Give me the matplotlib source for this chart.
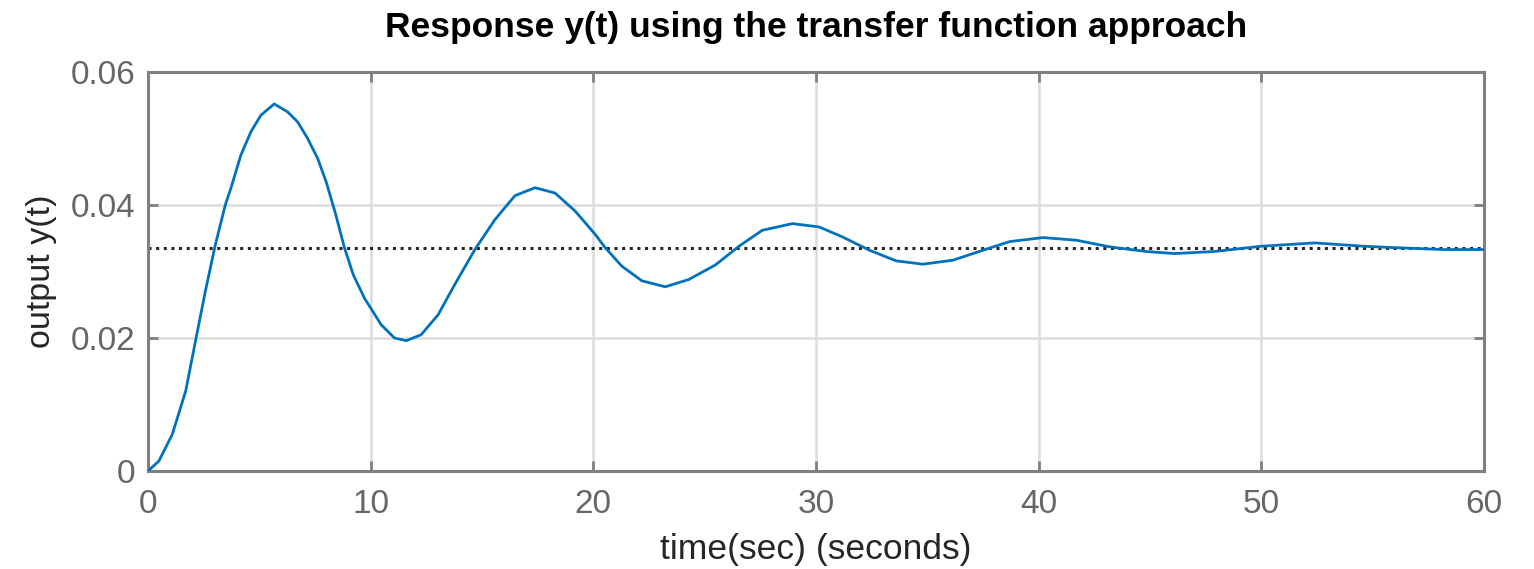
import matplotlib
matplotlib.use('Agg')
import matplotlib.pyplot as plt

# points
t = [0, 0.49, 1.09, 1.69, 2.13, 2.58, 3.03, 3.48, 3.72, 4.17, 4.62, 5.07, 5.67, 6.27,
     6.72, 7.17, 7.62, 8.0, 8.42, 8.82, 9.22, 9.72, 10.47, 11.07, 11.6, 12.27, 13.03, 13.77,
     14.68, 15.58, 16.48, 17.38, 18.28, 19.18, 20.08, 20.53, 21.28, 22.18, 23.23, 24.29,
     25.49, 26.54, 27.59, 28.94, 30.14, 31.19, 32.4, 33.6, 34.8, 36.15, 37.5, 38.7, 40.2,
     41.7, 43.2, 44.85, 46.1, 47.86, 50.0, 52.4, 54.6, 55.9, 58.2, 60.0]
y = [0, 0.0015, 0.0055, 0.0120, 0.0195, 0.0271, 0.0341, 0.0401, 0.0425, 0.0475, 0.0510,
     0.0535, 0.0552, 0.0540, 0.0525, 0.0500, 0.0470, 0.0435, 0.0387, 0.0336, 0.0295, 0.0260,
     0.0220, 0.0200, 0.0196, 0.0205, 0.0235, 0.0280, 0.0333, 0.0378, 0.0414, 0.0426,
     0.0418, 0.0391, 0.0356, 0.0336, 0.0308, 0.0286, 0.0277, 0.0288, 0.0310, 0.0338,
     0.0362, 0.0372, 0.0367, 0.0352, 0.0332, 0.0316, 0.0311, 0.0317, 0.0332, 0.0345,
     0.0351, 0.0347, 0.0337, 0.0330, 0.0327, 0.0330, 0.0338, 0.0343, 0.0338, 0.0336,
     0.0333, 0.0333]
y_final = 0.0336

x_ticks = [0, 10, 20, 30, 40, 50, 60]
y_ticks = [0, 0.02, 0.04, 0.06]
y_tick_labels = ['0', '0.02', '0.04', '0.06']

plt.rcParams['font.family'] = ['Liberation Sans', 'DejaVu Sans']

fig = plt.figure(figsize=(15.34, 5.69), dpi=100)
ax = fig.add_axes([148 / 1534, 1 - 471 / 569, (1484 - 148) / 1534, (471 - 72) / 569])

ax.plot(t, y, color='#0072BD', linewidth=2.0, solid_joinstyle='round', zorder=3)
ax.axhline(y_final, color='#262626', linestyle=(0, (1, 1.5)), linewidth=2.2, zorder=2)

ax.set_xlim(0, 60)
ax.set_ylim(0, 0.06)
ax.set_xticks(x_ticks)
ax.set_yticks(y_ticks)
ax.set_yticklabels(y_tick_labels)
ax.grid(True, color='#dcdcdc', linewidth=1.8)
ax.set_axisbelow(True)

for s in ax.spines.values():
    s.set_color('#808080')
    s.set_linewidth(2.2)
ax.tick_params(direction='in', length=7, width=2, color='#808080',
               top=True, right=True, labelsize=24, labelcolor='#666666')
ax.tick_params(axis='x', pad=13)
ax.tick_params(axis='y', pad=9)

ax.set_xlabel('time(sec) (seconds)', fontsize=25.5, color='#262626', labelpad=9)
ax.set_ylabel('output y(t)', fontsize=24.5, color='#262626', labelpad=10)
ax.set_title('Response y(t) using the transfer function approach',
             fontsize=25.5, fontweight='bold', color='#000000', pad=25)

fig.savefig('out.png', dpi=100)
